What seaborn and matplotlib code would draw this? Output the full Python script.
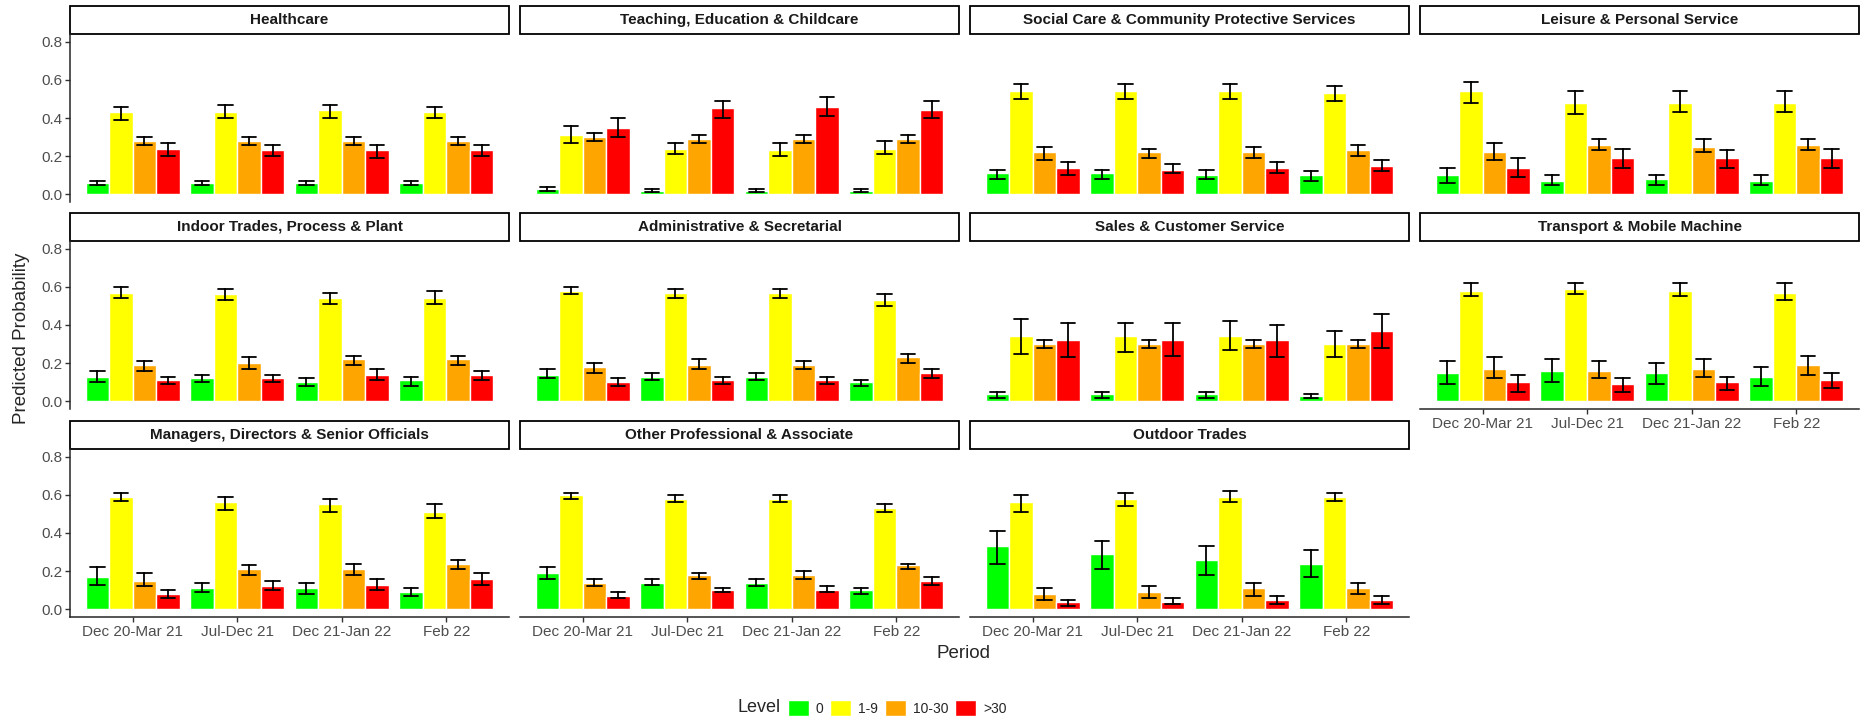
import numpy as np
import pandas as pd
import seaborn as sns
import matplotlib.pyplot as plt
from matplotlib.patches import Rectangle, Patch

sns.set_style('white')
plt.rcParams['font.family'] = ['Liberation Sans', 'DejaVu Sans']

periods = ['Dec 20-Mar 21', 'Jul-Dec 21', 'Dec 21-Jan 22', 'Feb 22']
levels = ['0', '1-9', '10-30', '>30']
level_colours = ['#00FF00', '#FFFF00', '#FFA500', '#FF0000']

occupations = ['Healthcare', 'Teaching, Education & Childcare',
               'Social Care & Community Protective Services', 'Leisure & Personal Service',
               'Indoor Trades, Process & Plant', 'Administrative & Secretarial',
               'Sales & Customer Service', 'Transport & Mobile Machine',
               'Managers, Directors & Senior Officials', 'Other Professional & Associate',
               'Outdoor Trades']

# rows = period, columns = level (0, 1-9, 10-30, >30)
healthcare = [[0.06, 0.43, 0.28, 0.24], [0.06, 0.43, 0.28, 0.23], [0.06, 0.44, 0.28, 0.23], [0.06, 0.43, 0.28, 0.23]]
healthcare_lo = [[0.05, 0.39, 0.26, 0.20], [0.05, 0.40, 0.26, 0.20], [0.05, 0.40, 0.26, 0.19], [0.05, 0.40, 0.26, 0.20]]
healthcare_hi = [[0.07, 0.46, 0.30, 0.27], [0.07, 0.47, 0.30, 0.26], [0.07, 0.47, 0.30, 0.26], [0.07, 0.46, 0.30, 0.26]]

teaching = [[0.03, 0.31, 0.30, 0.35], [0.02, 0.24, 0.29, 0.45], [0.02, 0.23, 0.29, 0.46], [0.02, 0.24, 0.29, 0.44]]
teaching_lo = [[0.02, 0.27, 0.28, 0.30], [0.014, 0.21, 0.27, 0.40], [0.014, 0.20, 0.27, 0.41], [0.014, 0.21, 0.27, 0.40]]
teaching_hi = [[0.04, 0.36, 0.32, 0.40], [0.03, 0.27, 0.31, 0.49], [0.03, 0.27, 0.31, 0.51], [0.03, 0.28, 0.31, 0.49]]

social = [[0.11, 0.54, 0.22, 0.14], [0.11, 0.54, 0.22, 0.13], [0.10, 0.54, 0.22, 0.14], [0.10, 0.53, 0.23, 0.15]]
social_lo = [[0.08, 0.50, 0.18, 0.10], [0.08, 0.50, 0.19, 0.11], [0.08, 0.50, 0.19, 0.11], [0.07, 0.49, 0.20, 0.12]]
social_hi = [[0.13, 0.58, 0.25, 0.17], [0.13, 0.58, 0.24, 0.16], [0.13, 0.58, 0.25, 0.17], [0.12, 0.57, 0.26, 0.18]]

leisure = [[0.10, 0.54, 0.22, 0.14], [0.07, 0.48, 0.26, 0.19], [0.08, 0.48, 0.25, 0.19], [0.07, 0.48, 0.26, 0.19]]
leisure_lo = [[0.06, 0.48, 0.18, 0.09], [0.05, 0.42, 0.23, 0.14], [0.05, 0.43, 0.22, 0.14], [0.05, 0.43, 0.23, 0.14]]
leisure_hi = [[0.14, 0.59, 0.27, 0.19], [0.10, 0.54, 0.29, 0.24], [0.10, 0.54, 0.29, 0.23], [0.10, 0.54, 0.29, 0.24]]

indoor = [[0.13, 0.57, 0.19, 0.11], [0.12, 0.56, 0.20, 0.12], [0.10, 0.54, 0.22, 0.14], [0.11, 0.54, 0.22, 0.14]]
indoor_lo = [[0.10, 0.54, 0.16, 0.09], [0.10, 0.53, 0.17, 0.10], [0.08, 0.51, 0.19, 0.11], [0.08, 0.51, 0.19, 0.11]]
indoor_hi = [[0.16, 0.60, 0.21, 0.13], [0.14, 0.59, 0.23, 0.14], [0.12, 0.57, 0.24, 0.17], [0.13, 0.58, 0.24, 0.16]]

admin = [[0.14, 0.58, 0.18, 0.10], [0.13, 0.57, 0.19, 0.11], [0.13, 0.57, 0.19, 0.11], [0.10, 0.53, 0.23, 0.15]]
admin_lo = [[0.12, 0.56, 0.15, 0.08], [0.11, 0.54, 0.17, 0.09], [0.11, 0.54, 0.17, 0.09], [0.08, 0.50, 0.20, 0.12]]
admin_hi = [[0.17, 0.60, 0.20, 0.12], [0.15, 0.59, 0.22, 0.13], [0.15, 0.59, 0.21, 0.13], [0.11, 0.56, 0.25, 0.17]]

sales = [[0.04, 0.34, 0.30, 0.32], [0.04, 0.34, 0.30, 0.32], [0.04, 0.34, 0.30, 0.32], [0.03, 0.30, 0.30, 0.37]]
sales_lo = [[0.02, 0.25, 0.28, 0.23], [0.02, 0.26, 0.28, 0.24], [0.02, 0.27, 0.28, 0.23], [0.02, 0.23, 0.28, 0.28]]
sales_hi = [[0.05, 0.43, 0.32, 0.41], [0.05, 0.41, 0.32, 0.41], [0.05, 0.42, 0.32, 0.40], [0.04, 0.37, 0.32, 0.46]]

transport = [[0.15, 0.58, 0.17, 0.10], [0.16, 0.59, 0.16, 0.09], [0.15, 0.58, 0.17, 0.10], [0.13, 0.57, 0.19, 0.11]]
transport_lo = [[0.09, 0.55, 0.12, 0.05], [0.10, 0.56, 0.12, 0.05], [0.09, 0.55, 0.13, 0.06], [0.08, 0.53, 0.14, 0.07]]
transport_hi = [[0.21, 0.62, 0.23, 0.14], [0.22, 0.62, 0.21, 0.12], [0.20, 0.62, 0.22, 0.13], [0.18, 0.62, 0.24, 0.15]]

managers = [[0.17, 0.59, 0.15, 0.08], [0.11, 0.56, 0.21, 0.12], [0.11, 0.55, 0.21, 0.13], [0.09, 0.51, 0.24, 0.16]]
managers_lo = [[0.13, 0.57, 0.12, 0.06], [0.09, 0.52, 0.18, 0.10], [0.08, 0.51, 0.18, 0.10], [0.07, 0.48, 0.21, 0.13]]
managers_hi = [[0.22, 0.61, 0.19, 0.10], [0.14, 0.59, 0.23, 0.15], [0.14, 0.58, 0.24, 0.16], [0.11, 0.55, 0.26, 0.19]]

professional = [[0.19, 0.60, 0.14, 0.07], [0.14, 0.58, 0.18, 0.10], [0.14, 0.58, 0.18, 0.10], [0.10, 0.53, 0.23, 0.15]]
professional_lo = [[0.16, 0.58, 0.12, 0.06], [0.13, 0.56, 0.16, 0.09], [0.12, 0.56, 0.16, 0.09], [0.08, 0.51, 0.21, 0.13]]
professional_hi = [[0.22, 0.61, 0.16, 0.09], [0.16, 0.60, 0.19, 0.11], [0.16, 0.60, 0.20, 0.12], [0.11, 0.55, 0.24, 0.17]]

outdoor = [[0.33, 0.56, 0.08, 0.04], [0.29, 0.58, 0.09, 0.04], [0.26, 0.59, 0.11, 0.05], [0.24, 0.59, 0.11, 0.05]]
outdoor_lo = [[0.24, 0.51, 0.05, 0.02], [0.21, 0.54, 0.06, 0.03], [0.18, 0.56, 0.07, 0.03], [0.17, 0.57, 0.08, 0.03]]
outdoor_hi = [[0.41, 0.60, 0.11, 0.05], [0.36, 0.61, 0.12, 0.06], [0.33, 0.62, 0.14, 0.07], [0.31, 0.61, 0.14, 0.07]]

estimates = [healthcare, teaching, social, leisure, indoor, admin, sales, transport, managers, professional, outdoor]
lowers = [healthcare_lo, teaching_lo, social_lo, leisure_lo, indoor_lo, admin_lo, sales_lo, transport_lo,
          managers_lo, professional_lo, outdoor_lo]
uppers = [healthcare_hi, teaching_hi, social_hi, leisure_hi, indoor_hi, admin_hi, sales_hi, transport_hi,
          managers_hi, professional_hi, outdoor_hi]

# long table: each bar gets three rows (lower, estimate, upper) -> median = estimate, min/max = interval
rows = []
for occ, est, lo, hi in zip(occupations, estimates, lowers, uppers):
    for i, per in enumerate(periods):
        for j, lev in enumerate(levels):
            for v in (lo[i][j], est[i][j], hi[i][j]):
                rows.append((occ, per, lev, v))
df = pd.DataFrame(rows, columns=['occupation', 'period', 'level', 'prob'])

W, H = 1872, 723
fig = plt.figure(figsize=(W / 100, H / 100), dpi=100)
col_left = [70, 520, 970, 1420]
row_top = [34, 241, 449]
pw, ph, strip_h = 439, 168, 28

for k, occ in enumerate(occupations):
    r, c = divmod(k, 4)
    ax = fig.add_axes([col_left[c] / W, 1 - (row_top[r] + ph) / H, pw / W, ph / H])
    sub = df[df['occupation'] == occ]
    sns.barplot(data=sub, x='period', y='prob', hue='level', order=periods, hue_order=levels,
                palette=level_colours, saturation=1, estimator='median',
                errorbar=lambda v: (v.min(), v.max()), width=0.9, gap=0,
                capsize=0.55, err_kws={'color': 'black', 'linewidth': 1.3},
                legend=False, ax=ax)
    ax.set_xlim(-0.6, 3.6)
    ax.set_ylim(-0.04, 0.84)
    ax.set_yticks([0.0, 0.2, 0.4, 0.6, 0.8])
    ax.set_xlabel('')
    ax.set_ylabel('')
    for s in ['top', 'right']:
        ax.spines[s].set_visible(False)
    show_left = c == 0
    show_bottom = k >= 7
    ax.spines['left'].set_visible(show_left)
    ax.spines['bottom'].set_visible(show_bottom)
    ax.spines['left'].set_linewidth(1.1)
    ax.spines['bottom'].set_linewidth(1.1)
    ax.tick_params(axis='y', left=show_left, labelleft=show_left, length=3.5, width=1,
                   colors='#333333', labelcolor='#4D4D4D', labelsize=11, pad=2)
    ax.tick_params(axis='x', bottom=show_bottom, labelbottom=show_bottom, length=3.5, width=1,
                   colors='#333333', labelcolor='#4D4D4D', labelsize=11, pad=2)
    ax.set_yticklabels(['0.0', '0.2', '0.4', '0.6', '0.8'])
    # facet strip
    ax.add_patch(Rectangle((0, 1), 1, strip_h / ph, transform=ax.transAxes, clip_on=False,
                           facecolor='white', edgecolor='black', linewidth=1.3))
    ax.text(0.5, 1 + strip_h / ph / 2, occ, transform=ax.transAxes, ha='center', va='center',
            fontsize=11, fontweight='bold', color='#1A1A1A')

fig.text(22 / W, 1 - 338 / H, 'Predicted Probability', rotation=90, ha='center', va='center', fontsize=13.5)
fig.text(964 / W, 1 - 653 / H, 'Period', ha='center', va='center', fontsize=13.5)

handles = [Patch(facecolor=col) for col in level_colours]
fig.legend(handles, levels, loc='center left', bbox_to_anchor=(788 / W, 1 - 708 / H), ncol=4, frameon=False,
           handlelength=1.5, handleheight=1.5, handletextpad=0.5, columnspacing=0.5, fontsize=10,
           borderpad=0, borderaxespad=0)
fig.text(781 / W, 1 - 708 / H, 'Level', ha='right', va='center', fontsize=13)

plt.savefig('out.png', dpi=100)
